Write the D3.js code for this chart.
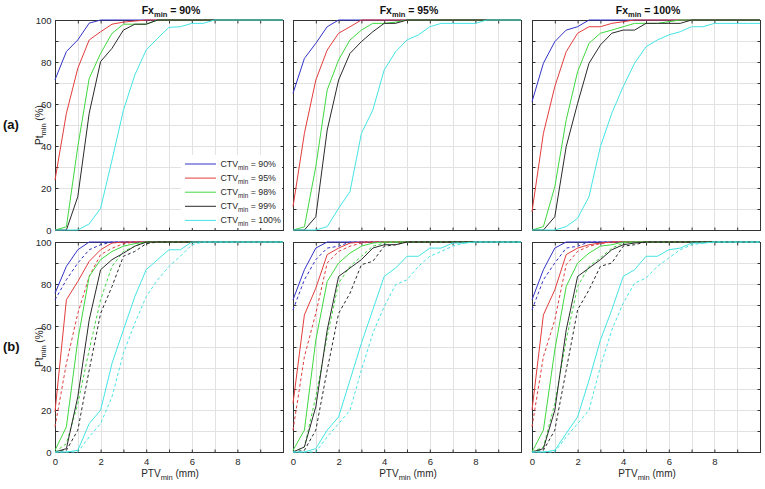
<!DOCTYPE html>
<html><head><meta charset="utf-8">
<script src="https://cdn.jsdelivr.net/npm/d3@7"></script>
<style>
body{margin:0;background:#fff;}
svg{display:block;font-family:"Liberation Sans",Arial,sans-serif;}
</style></head><body>
<svg id="chart" width="765" height="489"></svg>
<script>
// ---------------- DATA ----------------
const ptv = [0,0.5,1,1.5,2,2.5,3,3.5,4,4.5,5,5.5,6,6.5,7,7.5,8,8.5,9,9.5,10];
const fxNames = ["90%","95%","100%"];
const ctvNames = ["90%","95%","98%","99%","100%"];
const rowNames = ["(a)","(b)"];
const xTicks = [0,1,2,3,4,5,6,7,8,9,10];
const xTickLabels = ["0","","2","","4","","6","","8","",""];
const yTicks = [0,10,20,30,40,50,60,70,80,90,100];
const yTickLabels = ["0","","20","","40","","60","","80","","100"];

// (a) Fx_min = 90%
const a90_ctv90  = [71.5,85,90.5,98.5, 100,100,100,100,100, 100,100,100,100,100, 100,100,100,100,100, 100,100];
const a90_ctv95  = [23.8,55.6,77,90.5,94.4,98,99,99.5, 100,100, 100,100,100,100,100, 100,100,100,100,100, 100];
const a90_ctv98  = [0,1.5,39.7,72.2,84.1,93.6,98,98,98, 100, 100,100,100,100,100, 100,100,100,100,100, 100];
const a90_ctv99  = [0,0,15.9,55.6,80.2,86.5,95.2,98,98, 100, 100,100,100,100,100, 100,100,100,100,100, 100];
const a90_ctv100 = [0,0,0,2.9,10.3,33.3,57,73.8,85.7,91.3,96.5,96.8,98.4,98.4, 100, 100,100,100,100,100, 100];
// (a) Fx_min = 95%
const a95_ctv90  = [65.1,81.7,88.9,96.8, 100,100,100,100,100, 100,100,100,100,100, 100,100,100,100,100, 100,100];
const a95_ctv95  = [11.1,46,71.4,85.7,93.7,96.8, 100,100,100,100, 100,100,100,100,100, 100,100,100,100,100, 100];
const a95_ctv98  = [0,1.5,30.2,66.7,81,90.5,95.2,98.4,98.4,99, 100,100,100,100,100, 100,100,100,100,100, 100];
const a95_ctv99  = [0,0,6.3,47.6,71.4,84.1,89.7,94.4,98.4,98.4, 100,100,100,100,100, 100,100,100,100,100, 100];
const a95_ctv100 = [0,0,0,1.6,10.3,18.3,46,57.1,76.2,84.9,90.5,92.9,96.8,98.4,98.4,98.4,98.4, 100,100,100,100];
// (a) Fx_min = 100%
const a100_ctv90  = [61.1,79.4,89.7,95.2,96.8, 100,100,100,100,100, 100,100,100,100,100, 100,100,100,100,100, 100];
const a100_ctv95  = [8.7,46,68.3,84.9,93.7,96.8,96.8,98.4,99.2, 100, 100,100,100,100,100, 100,100,100,100,100, 100];
const a100_ctv98  = [0,1.6,20.6,52.4,75.4,88.9,93.7,95.2,96.8,98.4,98.4,98.4,99.2, 100,100, 100,100,100,100,100, 100];
const a100_ctv99  = [0,0,6.3,39.7,60.3,79.4,88.1,93.7,95.2,95.2,98.4,98.4,98.4,98.4, 100, 100,100,100,100,100, 100];
const a100_ctv100 = [0,0,0,1.6,5.6,15.9,39.7,55.6,68.3,79.4,87.3,90.5,92.9,94.4,96.8,96.8,98.4,98.4,98.4,98.4,98.4];

// (b) Fx_min = 90%, solid
const b90_ctv90_s  = [75.6,88.4,96.3, 100,100, 100,100,100,100,100, 100,100,100,100,100, 100,100,100,100,100, 100];
const b90_ctv95_s  = [19.1,72.5,81.2,90.8,96.3,99.5, 100,100,100,100, 100,100,100,100,100, 100,100,100,100,100, 100];
const b90_ctv98_s  = [0.8,12,53.3,83.6,91.6,95.5,98,99.2, 100,100, 100,100,100,100,100, 100,100,100,100,100, 100];
const b90_ctv99_s  = [0,1.6,26.3,62.9,86.8,91.6,94.7,98, 100,100, 100,100,100,100,100, 100,100,100,100,100, 100];
const b90_ctv100_s = [0,0,0.8,13.5,19.9,42.2,58.1,74,86.8,91.6,96.3,96.3, 100,100,100, 100,100,100,100,100, 100];
// (b) Fx_min = 90%, dashed
const b90_ctv90_d  = [72.5,82,90,96.3,98.7, 100,100,100,100,100, 100,100,100,100,100, 100,100,100,100,100, 100];
const b90_ctv95_d  = [12,42.2,66,83.6,94,97,99.2, 100,100,100, 100,100,100,100,100, 100,100,100,100,100, 100];
const b90_ctv98_d  = [0,4,23,48.6,72.5,88.4,95.5,98, 100,100, 100,100,100,100,100, 100,100,100,100,100, 100];
const b90_ctv99_d  = [0,0.8,10.4,39,66,78.8,93.2,95.5,99.2, 100, 100,100,100,100,100, 100,100,100,100,100, 100];
const b90_ctv100_d = [0,0,0,7.2,13.5,26.3,47,61.3,74,82,88.4,93.2,98.7, 100,100, 100,100,100,100,100, 100];
// (b) Fx_min = 95%, solid
const b95_ctv90_s  = [72.5,86.8,97.1, 100,100, 100,100,100,100,100, 100,100,100,100,100, 100,100,100,100,100, 100];
const b95_ctv95_s  = [23.1,65.3,78,94,97.1,99.5, 100,100,100,100, 100,100,100,100,100, 100,100,100,100,100, 100];
const b95_ctv98_s  = [0.8,10.4,53.3,81.2,90,94.7,98,99.5, 100,100, 100,100,100,100,100, 100,100,100,100,100, 100];
const b95_ctv99_s  = [0,2.4,21.5,58.1,83.6,87.6,91.6,97.1,98.7,98.7, 100,100,100,100,100, 100,100,100,100,100, 100];
const b95_ctv100_s = [0,0,1.6,10.4,16.7,34.2,51.8,67.7,83.6,87.6,93.2,93.2,97.1,97.1,99.5,99.5, 100,100,100,100,100];
// (b) Fx_min = 95%, dashed
const b95_ctv90_d  = [67.7,82,91.6,97.1,98, 100,100,100,100,100, 100,100,100,100,100, 100,100,100,100,100, 100];
const b95_ctv95_d  = [10.4,45.4,66,90,95.5,98,99.5, 100,100,100, 100,100,100,100,100, 100,100,100,100,100, 100];
const b95_ctv98_d  = [0,2.4,26.3,55,80.4,88.4,93.2,98,99.5, 100, 100,100,100,100,100, 100,100,100,100,100, 100];
const b95_ctv99_d  = [0,0.8,10.4,39,66,75.6,89.2,90.8,98,98.7, 100,100,100,100,100, 100,100,100,100,100, 100];
const b95_ctv100_d = [0,0,0,7.2,13.5,19.9,39,56.5,69.3,79.6,82,88.4,93.2,95.5,98,99.5, 100,100,100,100,100];
// (b) Fx_min = 100%, solid
const b100_ctv90_s  = [72.5,86.8,97.1, 100,100, 100,100,100,100,100, 100,100,100,100,100, 100,100,100,100,100, 100];
const b100_ctv95_s  = [19.9,65.3,77.2,94,97.1,98.7,99.5, 100,100,100, 100,100,100,100,100, 100,100,100,100,100, 100];
const b100_ctv98_s  = [0,10.4,48.6,78.8,90,94.7,98,98.7, 100,100, 100,100,100,100,100, 100,100,100,100,100, 100];
const b100_ctv99_s  = [0,1.6,19.9,58.1,83.6,87.6,91.6,96.3,98.7,99.5, 100,100,100,100,100, 100,100,100,100,100, 100];
const b100_ctv100_s = [0,0,0.8,8.8,16.7,34.2,53.3,67.7,83.6,86.8,93.2,93.2,96.3,97.1,99.5,99.5, 100,100,100,100,100];
// (b) Fx_min = 100%, dashed
const b100_ctv90_d  = [67.7,82,90,97.1,98, 100,100,100,100,100, 100,100,100,100,100, 100,100,100,100,100, 100];
const b100_ctv95_d  = [12,45.4,62.9,89.2,95.5,98,99.2, 100,100,100, 100,100,100,100,100, 100,100,100,100,100, 100];
const b100_ctv98_d  = [0,2.4,23,53.3,78.8,88.4,92.4,97.1,99.5, 100, 100,100,100,100,100, 100,100,100,100,100, 100];
const b100_ctv99_d  = [0,0.8,10.4,39,67.7,77.2,88.4,90,98,98.7, 100,100,100,100,100, 100,100,100,100,100, 100];
const b100_ctv100_d = [0,0,0,7.2,13.5,19.9,40.6,58.1,70.9,80.4,82.8,88.4,92.4,96.3,98.7,99.5, 100,100,100,100,100];

// ---------------- STYLE / LAYOUT ----------------
const colors = ["#3232c8","#e23c3c","#40d840","#2a2a2a","#44e4e4"];
const panelX = [55, 293, 532];
const rowY = [20, 242];
const W = 228, H = 210;

const panels = [
  [{solid:[a90_ctv90,a90_ctv95,a90_ctv98,a90_ctv99,a90_ctv100]},
   {solid:[a95_ctv90,a95_ctv95,a95_ctv98,a95_ctv99,a95_ctv100]},
   {solid:[a100_ctv90,a100_ctv95,a100_ctv98,a100_ctv99,a100_ctv100]}],
  [{solid:[b90_ctv90_s,b90_ctv95_s,b90_ctv98_s,b90_ctv99_s,b90_ctv100_s],
    dash:[b90_ctv90_d,b90_ctv95_d,b90_ctv98_d,b90_ctv99_d,b90_ctv100_d]},
   {solid:[b95_ctv90_s,b95_ctv95_s,b95_ctv98_s,b95_ctv99_s,b95_ctv100_s],
    dash:[b95_ctv90_d,b95_ctv95_d,b95_ctv98_d,b95_ctv99_d,b95_ctv100_d]},
   {solid:[b100_ctv90_s,b100_ctv95_s,b100_ctv98_s,b100_ctv99_s,b100_ctv100_s],
    dash:[b100_ctv90_d,b100_ctv95_d,b100_ctv98_d,b100_ctv99_d,b100_ctv100_d]}]
];

const svg = d3.select("#chart");
const axisColor = "#333";
const txtColor = "#262626";

panels.forEach((row, r) => {
  row.forEach((p, c) => {
    const px = panelX[c], py = rowY[r];
    const xs = d3.scaleLinear().domain([0,10]).range([px, px + W]);
    const ys = d3.scaleLinear().domain([0,100]).range([py + H, py]);
    const g = svg.append("g");

    // grid
    g.append("g").selectAll("line").data(xTicks.filter(d => d > 0 && d < 10)).join("line")
      .attr("x1", d => Math.round(xs(d)) + 0.5).attr("x2", d => Math.round(xs(d)) + 0.5)
      .attr("y1", py).attr("y2", py + H)
      .attr("stroke", "#e2e2e2").attr("stroke-width", 1);
    g.append("g").selectAll("line").data(yTicks.filter(d => d > 0 && d < 100)).join("line")
      .attr("y1", d => Math.round(ys(d)) + 0.5).attr("y2", d => Math.round(ys(d)) + 0.5)
      .attr("x1", px).attr("x2", px + W)
      .attr("stroke", "#e2e2e2").attr("stroke-width", 1);

    // box
    g.append("rect").attr("x", px + 0.5).attr("y", py + 0.5).attr("width", W).attr("height", H)
      .attr("fill", "none").attr("stroke", axisColor).attr("stroke-width", 1);

    const styleAxis = sel => {
      sel.select(".domain").remove();
      sel.selectAll(".tick line").attr("stroke", axisColor);
      sel.selectAll(".tick text").attr("fill", txtColor).style("font-size", "9.5px")
        .style("font-family", '"Liberation Sans", Arial, sans-serif');
    };
    g.append("g").attr("transform", `translate(0,${py + H + 0.5})`)
      .call(d3.axisBottom(xs).tickValues(xTicks).tickSizeInner(-3).tickSizeOuter(0).tickPadding(6)
        .tickFormat((d, i) => r === 1 ? xTickLabels[i] : ""))
      .call(styleAxis);
    g.append("g").attr("transform", `translate(0,${py + 0.5})`)
      .call(d3.axisTop(xs).tickValues(xTicks).tickSizeInner(-3).tickSizeOuter(0).tickFormat(() => ""))
      .call(styleAxis);
    g.append("g").attr("transform", `translate(${px + 0.5},0)`)
      .call(d3.axisLeft(ys).tickValues(yTicks).tickSizeInner(-3).tickSizeOuter(0).tickPadding(4)
        .tickFormat((d, i) => c === 0 ? yTickLabels[i] : ""))
      .call(styleAxis);
    g.append("g").attr("transform", `translate(${px + W + 0.5},0)`)
      .call(d3.axisRight(ys).tickValues(yTicks).tickSizeInner(-3).tickSizeOuter(0).tickFormat(() => ""))
      .call(styleAxis);

    // lines
    const line = d3.line().x((d, i) => xs(ptv[i])).y(d => ys(d));
    p.solid.forEach((s, i) => {
      g.append("path").attr("d", line(s)).attr("fill", "none")
        .attr("stroke", colors[i]).attr("stroke-width", 1);
      if (p.dash) {
        g.append("path").attr("d", line(p.dash[i])).attr("fill", "none")
          .attr("stroke", colors[i]).attr("stroke-width", 1).attr("stroke-dasharray", "3,2.5");
      }
    });

    // title
    if (r === 0) {
      const t = svg.append("text").attr("x", px + W / 2 + 2).attr("y", 13.5)
        .attr("text-anchor", "middle").attr("font-weight", "bold").attr("fill", "#111")
        .style("font-size", "10.5px");
      t.append("tspan").text("Fx");
      t.append("tspan").text("min").style("font-size", "7.5px").attr("dy", 3);
      t.append("tspan").text(" = " + fxNames[c]).attr("dy", -3);
    }
    // x label
    if (r === 1) {
      const t = svg.append("text").attr("x", px + W / 2 + 1).attr("y", 476.5)
        .attr("text-anchor", "middle").attr("fill", txtColor).style("font-size", "10px");
      t.append("tspan").text("PTV");
      t.append("tspan").text("min").style("font-size", "7.5px").attr("dy", 3.5);
      t.append("tspan").text(" (mm)").attr("dy", -3.5);
    }
    // y label + row tag
    if (c === 0) {
      const cy = py + H / 2;
      const t = svg.append("text").attr("transform", `translate(42.5,${cy}) rotate(-90)`)
        .attr("text-anchor", "middle").attr("fill", txtColor).style("font-size", "10px");
      t.append("tspan").text("Pt");
      t.append("tspan").text("min").style("font-size", "7.5px").attr("dy", 3.5);
      t.append("tspan").text(" (%)").attr("dy", -3.5);
      svg.append("text").attr("x", 3).attr("y", cy + 3.5).attr("font-weight", "bold")
        .attr("fill", "#111").style("font-size", "13px").text(rowNames[r]);
    }
  });
});

// legend (top-left panel)
const leg = svg.append("g");
leg.append("rect").attr("x", 181).attr("y", 155).attr("width", 101).attr("height", 73).attr("fill", "#fff");
ctvNames.forEach((n, i) => {
  const yy = 164 + i * 14.1;
  leg.append("line").attr("x1", 185).attr("x2", 216).attr("y1", yy).attr("y2", yy)
    .attr("stroke", colors[i]).attr("stroke-width", 1);
  const t = leg.append("text").attr("x", 220.5).attr("y", yy + 2.5).attr("fill", txtColor)
    .style("font-size", "8.8px");
  t.append("tspan").text("CTV");
  t.append("tspan").text("min").style("font-size", "6.3px").attr("dy", 3);
  t.append("tspan").text(" = " + n).attr("dy", -3);
});
</script>
</body></html>
